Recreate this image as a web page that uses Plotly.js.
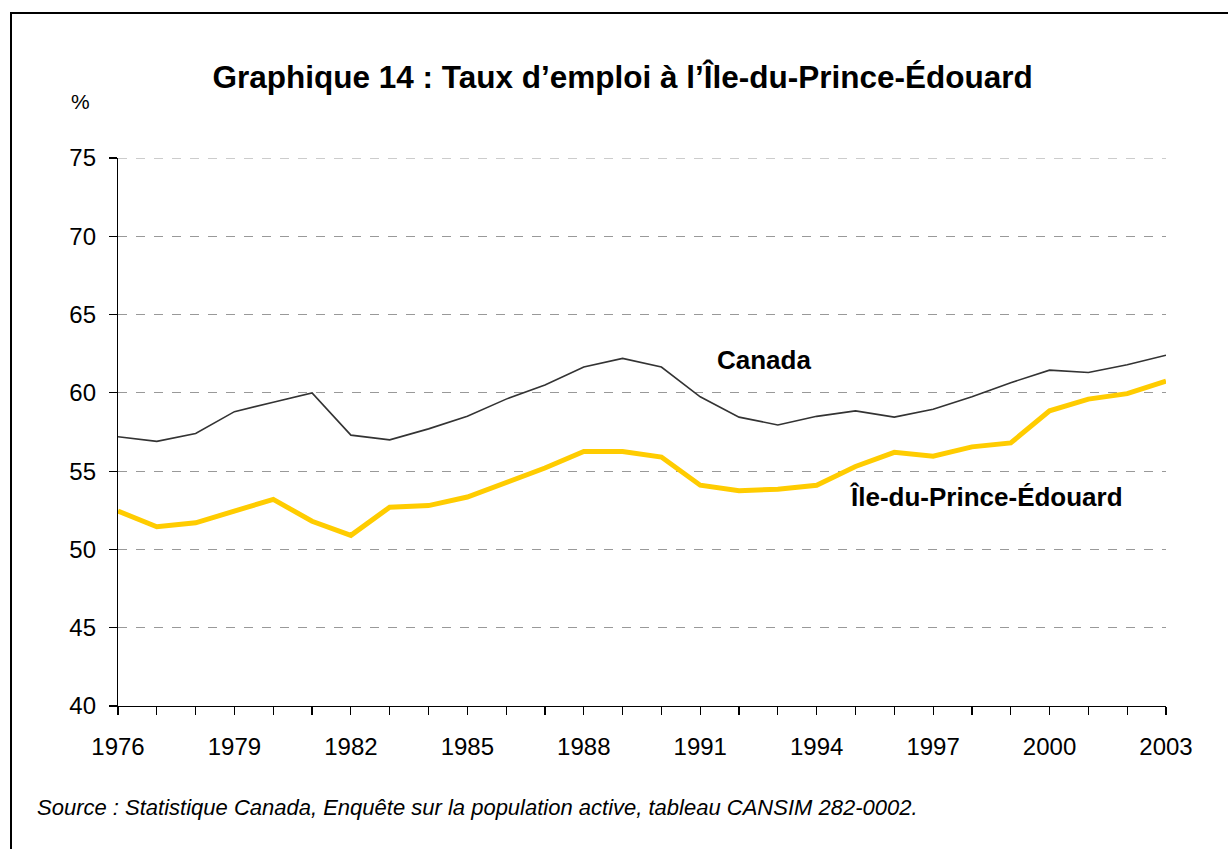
<!DOCTYPE html>
<html>
<head>
<meta charset="utf-8">
<script src="https://cdn.plot.ly/plotly-3.0.1.min.js"></script>
<style>
  html, body { margin: 0; padding: 0; background: #fff; }
  #wrap { position: relative; width: 1228px; height: 849px; overflow: hidden; }
  #chart { position: absolute; left: 0; top: 0; width: 1228px; height: 849px; }
  #frame { position: absolute; left: 10px; top: 12px; width: 1240px; height: 860px;
           border-left: 2px solid #000; border-top: 2px solid #000; pointer-events: none; }
</style>
</head>
<body>
<div id="wrap">
  <div id="chart"></div>
  <div id="frame"></div>
</div>
<script>
const years = [1976,1977,1978,1979,1980,1981,1982,1983,1984,1985,1986,1987,1988,1989,1990,
               1991,1992,1993,1994,1995,1996,1997,1998,1999,2000,2001,2002,2003];
const canada = [57.2,56.9,57.4,58.8,59.4,60.0,57.3,57.0,57.7,58.5,59.6,60.5,61.65,62.2,61.65,
                59.75,58.45,57.95,58.5,58.85,58.45,58.95,59.75,60.65,61.45,61.3,61.8,62.4];
const ipe = [52.45,51.45,51.7,52.45,53.2,51.8,50.9,52.7,52.8,53.35,54.25,55.2,56.25,56.25,55.9,
             54.1,53.75,53.85,54.1,55.3,56.2,55.95,56.55,56.8,58.85,59.6,59.95,60.75];
const tickLabels = years.map(y => ((y - 1976) % 3 === 0) ? String(y) : '');
const titleText = 'Graphique 14 : Taux d’emploi à l’Île-du-Prince-Édouard';
const sourceText = 'Source : Statistique Canada, Enquête sur la population active, tableau CANSIM 282-0002.';

const font = 'Liberation Sans, Arial, Helvetica, sans-serif';

const traces = [
  { x: years, y: canada, type: 'scatter', mode: 'lines', name: 'Canada',
    line: { color: '#333333', width: 1.6 }, hoverinfo: 'x+y' },
  { x: years, y: ipe, type: 'scatter', mode: 'lines', name: 'Île-du-Prince-Édouard',
    line: { color: '#FFCC00', width: 5 }, hoverinfo: 'x+y' }
];

const layout = {
  width: 1228, height: 849,
  paper_bgcolor: '#ffffff', plot_bgcolor: '#ffffff',
  showlegend: false,
  margin: { l: 118, r: 62, t: 158, b: 143 },
  font: { family: font, color: '#000', size: 20 },
  title: { text: '<b>' + titleText + '</b>', font: { family: font, size: 31.5, color: '#000' },
           x: 0.507, xanchor: 'center', y: 0.909, yanchor: 'middle' },
  xaxis: {
    range: [1976, 2003], tickmode: 'array', tickvals: years, ticktext: tickLabels,
    showline: true, linecolor: '#000', linewidth: 1.2,
    ticks: 'outside', ticklen: 8, tickcolor: '#000', tickwidth: 1.2,
    showgrid: false, zeroline: false, ticklabelstandoff: 11,
    tickfont: { family: font, size: 24, color: '#000' }
  },
  yaxis: {
    range: [40, 75], dtick: 5, tick0: 40,
    showline: true, linecolor: '#000', linewidth: 1.2,
    ticks: 'outside', ticklen: 8, tickcolor: '#000', tickwidth: 1.2,
    showgrid: true, gridcolor: '#999999', griddash: 'dash', gridwidth: 1,
    zeroline: false, ticklabelstandoff: 8,
    tickfont: { family: font, size: 24, color: '#000' }
  },
  shapes: [
    { type: 'line', xref: 'paper', yref: 'y', x0: 0, x1: 1, y0: 75, y1: 75,
      line: { color: '#999999', width: 1, dash: 'dash' }, layer: 'below' }
  ],
  annotations: [
    { text: '%', xref: 'paper', yref: 'paper', x: (80 - 118) / 1048, y: (706 - 101) / 548,
      xanchor: 'center', yanchor: 'middle', showarrow: false, font: { family: font, size: 21, color: '#000' } },
    { text: '<b>Canada</b>', xref: 'x', yref: 'y', x: 1992.65, y: 62.1,
      xanchor: 'center', yanchor: 'middle', showarrow: false, font: { family: font, size: 26, color: '#000' } },
    { text: '<b>Île-du-Prince-Édouard</b>', xref: 'x', yref: 'y', x: 1998.37, y: 53.35,
      xanchor: 'center', yanchor: 'middle', showarrow: false, font: { family: font, size: 26, color: '#000' } },
    { text: '<i>' + sourceText + '</i>', xref: 'paper', yref: 'paper', x: (35 - 118) / 1048, y: (706 - 807) / 548,
      xanchor: 'left', yanchor: 'middle', showarrow: false, font: { family: font, size: 22, color: '#000' } }
  ]
};

Plotly.newPlot('chart', traces, layout, { displayModeBar: false, staticPlot: true });
</script>
</body>
</html>
